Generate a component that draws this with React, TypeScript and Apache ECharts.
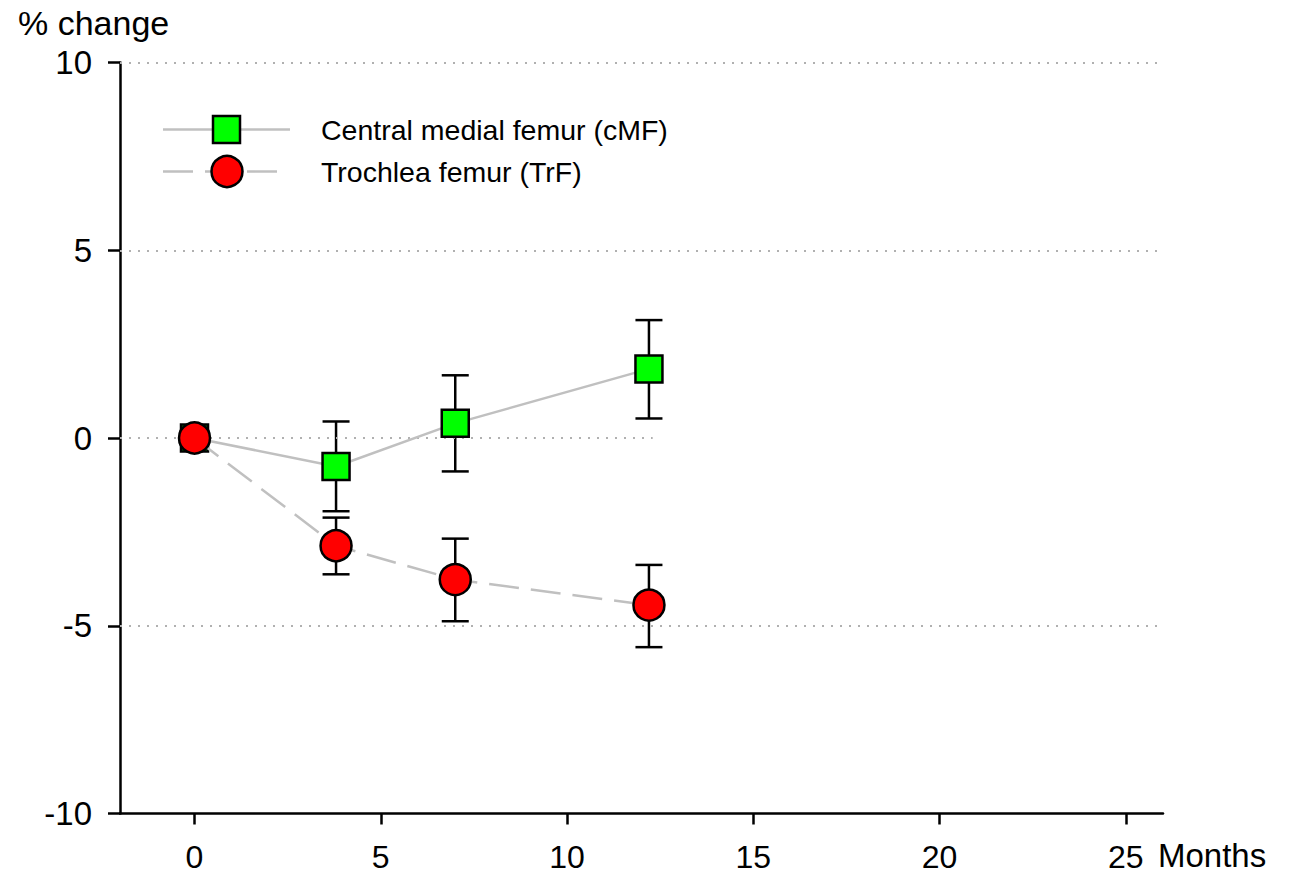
import React, { useEffect, useRef } from "react";
import * as echarts from "echarts";

const months = [0, 3.8, 7, 12.2];
const cmfMean = [0, -0.76, 0.39, 1.84];
const cmfLow = [null, -1.95, -0.89, 0.52];
const cmfHigh = [null, 0.44, 1.67, 3.14];
const trfMean = [0, -2.87, -3.77, -4.45];
const trfLow = [null, -3.63, -4.88, -5.57];
const trfHigh = [null, -2.12, -2.68, -3.38];
const xTicks = [0, 5, 10, 15, 20, 25];
const gridValues = [10, 5, -5];
const zeroLineEnd = 12.3;
const seriesNames = ["Central medial femur (cMF)", "Trochlea femur (TrF)"];

const FONT = "'Liberation Sans', Arial, sans-serif";
const LINE_GRAY = "#c0c0c0";

function errData(low: (number | null)[], high: (number | null)[]) {
  const out: number[][] = [];
  months.forEach((m, i) => {
    if (low[i] != null && high[i] != null) out.push([m, low[i] as number, high[i] as number]);
  });
  return out;
}

function errRender(params: any, api: any) {
  const x = api.value(0);
  const lo = api.coord([x, api.value(1)]);
  const hi = api.coord([x, api.value(2)]);
  const w = 13.5;
  const st = { stroke: "#000", lineWidth: 2.5 };
  return {
    type: "group",
    children: [
      { type: "line", shape: { x1: lo[0], y1: lo[1], x2: hi[0], y2: hi[1] }, style: st },
      { type: "line", shape: { x1: hi[0] - w, y1: hi[1], x2: hi[0] + w, y2: hi[1] }, style: st },
      { type: "line", shape: { x1: lo[0] - w, y1: lo[1], x2: lo[0] + w, y2: lo[1] }, style: st },
    ],
  };
}

export default function App() {
  const ref = useRef<HTMLDivElement>(null);
  useEffect(() => {
    if (!ref.current) return;
    const chart = echarts.init(ref.current, null, { renderer: "svg" });
    const dotted = { type: [2, 7] as any, color: "#b0b0b0", width: 2 };
    chart.setOption({
      animation: false,
      backgroundColor: "#fff",
      textStyle: { fontFamily: FONT },
      grid: { left: 120, right: 127, top: 62.5, bottom: 61.5, containLabel: false },
      xAxis: {
        type: "value",
        min: -2,
        max: 26,
        axisLine: { show: true, onZero: false, lineStyle: { color: "#000", width: 2.5 } },
        axisTick: { show: true, customValues: xTicks, length: 11, lineStyle: { color: "#000", width: 2.5 } },
        axisLabel: { customValues: xTicks, margin: 31, fontSize: 32, lineHeight: 24, color: "#000", fontFamily: FONT },
        splitLine: { show: false },
      },
      yAxis: {
        type: "value",
        min: -10,
        max: 10,
        interval: 5,
        axisLine: { show: true, onZero: false, lineStyle: { color: "#000", width: 2.5 } },
        axisTick: { show: true, length: 12, lineStyle: { color: "#000", width: 2.5 } },
        axisLabel: { margin: 28, fontSize: 33, color: "#000", fontFamily: FONT },
        splitLine: { show: false },
      },
      graphic: [
        { type: "text", x: 18, y: 23, style: { text: "% change", font: `34px ${FONT}`, fill: "#000", verticalAlign: "middle", lineHeight: 30 } },
        { type: "text", x: 1158, y: 855, style: { text: "Months", font: `33px ${FONT}`, fill: "#000", verticalAlign: "middle", lineHeight: 24 } },
        { type: "line", shape: { x1: 163, y1: 129.5, x2: 290, y2: 129.5 }, style: { stroke: LINE_GRAY, lineWidth: 2.5 } },
        { type: "rect", shape: { x: 213, y: 116, width: 27, height: 27 }, style: { fill: "#00ff00", stroke: "#000", lineWidth: 2.5 } },
        { type: "line", shape: { x1: 163, y1: 171.5, x2: 277, y2: 171.5 }, style: { stroke: LINE_GRAY, lineWidth: 2.5, lineDash: [30, 12] } },
        { type: "circle", shape: { cx: 227, cy: 171.5, r: 15.5 }, style: { fill: "#ff0000", stroke: "#000", lineWidth: 2.5 } },
        { type: "text", x: 321, y: 130, style: { text: seriesNames[0], font: `28.5px ${FONT}`, fill: "#000", verticalAlign: "middle" } },
        { type: "text", x: 321, y: 172, style: { text: seriesNames[1], font: `28.5px ${FONT}`, fill: "#000", verticalAlign: "middle" } },
      ],
      series: [
        {
          type: "line",
          name: "grid",
          data: [],
          silent: true,
          markLine: {
            silent: true,
            symbol: "none",
            label: { show: false },
            lineStyle: dotted,
            data: [
              ...gridValues.map((v) => ({ yAxis: v, lineStyle: dotted })),
              [{ coord: [-2, 0], lineStyle: dotted }, { coord: [zeroLineEnd, 0] }],
            ],
          },
        },
        {
          type: "custom",
          name: "cmfErr",
          renderItem: errRender,
          data: errData(cmfLow, cmfHigh),
          encode: { x: 0, y: [1, 2] },
          z: 3,
          silent: true,
        },
        {
          type: "custom",
          name: "trfErr",
          renderItem: errRender,
          data: errData(trfLow, trfHigh),
          encode: { x: 0, y: [1, 2] },
          z: 3,
          silent: true,
        },
        {
          type: "line",
          name: seriesNames[0],
          data: months.map((m, i) => [m, cmfMean[i]]),
          symbol: "rect",
          symbolSize: 27,
          lineStyle: { color: LINE_GRAY, width: 2.5 },
          itemStyle: { color: "#00ff00", borderColor: "#000", borderWidth: 2.5 },
          z: 5,
        },
        {
          type: "line",
          name: seriesNames[1],
          data: months.map((m, i) => [m, trfMean[i]]),
          symbol: "circle",
          symbolSize: 31,
          lineStyle: { color: LINE_GRAY, width: 2.5, type: [30, 12] },
          itemStyle: { color: "#ff0000", borderColor: "#000", borderWidth: 2.5 },
          z: 6,
        },
      ],
    });
    return () => chart.dispose();
  }, []);
  return (
    <div
      ref={ref}
      style={{ position: "fixed", left: 0, top: 0, width: 1290, height: 875, background: "#fff" }}
    />
  );
}
